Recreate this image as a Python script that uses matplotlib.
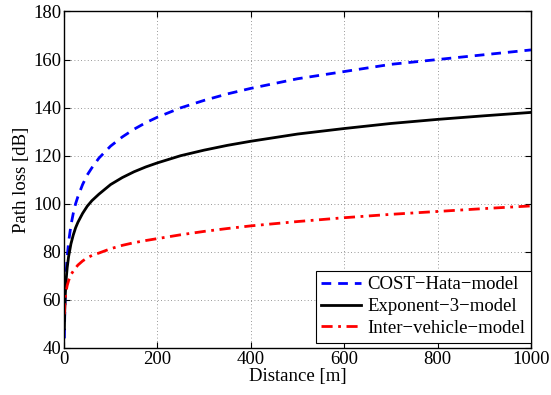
import matplotlib
matplotlib.use("Agg")
import matplotlib.pyplot as plt

# distancias [m] e perdas [dB]
dist = [1, 1.5, 2, 3, 4, 5, 7, 10, 15, 20, 25, 30, 40, 50, 60, 75, 100, 125, 150, 175, 200,
        250, 300, 350, 400, 500, 600, 700, 800, 900, 1000]
cost_hata = [44, 51, 56, 63, 68, 72, 77.7, 84, 91, 96, 100, 103, 108, 112, 115, 119, 124, 127.8,
             131, 133.7, 136, 139.9, 143, 145.7, 148, 152, 155, 158, 160, 162, 164]
exp3 = [48, 53.3, 57, 62.3, 66, 69, 73.4, 78, 83.3, 87, 90, 92.3, 96, 99, 101.3, 104, 108, 110.9,
        113.3, 115.3, 117, 120, 122.3, 124.3, 126, 129, 131.3, 133.4, 135.1, 136.6, 138]
inter_vehicle = [54, 56, 58, 61, 62.5, 64, 66, 68, 70.5, 72, 73.3, 74.5, 76.2, 77.5, 78.5, 79.5,
                 81.3, 82.7, 83.8, 84.7, 85.5, 87.1, 88.5, 89.7, 90.8, 92.6, 94.2, 95.6, 96.8, 98, 99.1]

nomes = ["COST\u2212Hata\u2212model", "Exponent\u22123\u2212model", "Inter\u2212vehicle\u2212model"]
xticks = [0, 200, 400, 600, 800, 1000]
yticks = [40, 60, 80, 100, 120, 140, 160, 180]

plt.rcParams["font.family"] = ["Liberation Serif", "DejaVu Serif"]
plt.rcParams["font.size"] = 13.5

fig = plt.figure(figsize=(5.51, 3.95), dpi=100)
ax = fig.add_axes([0.116, 0.119, 0.8477, 0.852])

ax.plot(dist, cost_hata, color="blue", linestyle=(0, (3.5, 2.5)), linewidth=2, label=nomes[0])
ax.plot(dist, exp3, color="black", linestyle="-", linewidth=2, label=nomes[1])
ax.plot(dist, inter_vehicle, color="red", linestyle=(0, (4, 2, 1, 2)), linewidth=2, label=nomes[2])

ax.set_xlim(0, 1000)
ax.set_ylim(40, 180)
ax.set_xticks(xticks)
ax.set_yticks(yticks)
ax.grid(True, linestyle=(0, (1, 3)), color="#777777", linewidth=0.6)
ax.tick_params(direction="in", top=True, right=True, length=4, width=0.8, pad=2)
for s in ax.spines.values():
    s.set_linewidth(1.0)

ax.set_xlabel("Distance [m]", labelpad=0)
ax.set_ylabel("Path loss [dB]", labelpad=2)

leg = ax.legend(loc="lower right", bbox_to_anchor=(1.0, 0.016), fancybox=False,
                edgecolor="black", framealpha=1, borderaxespad=0, handlelength=2.1,
                borderpad=0.3, labelspacing=0.25, handletextpad=0.35)
leg.get_frame().set_linewidth(0.8)

fig.savefig("out.png", dpi=100)
